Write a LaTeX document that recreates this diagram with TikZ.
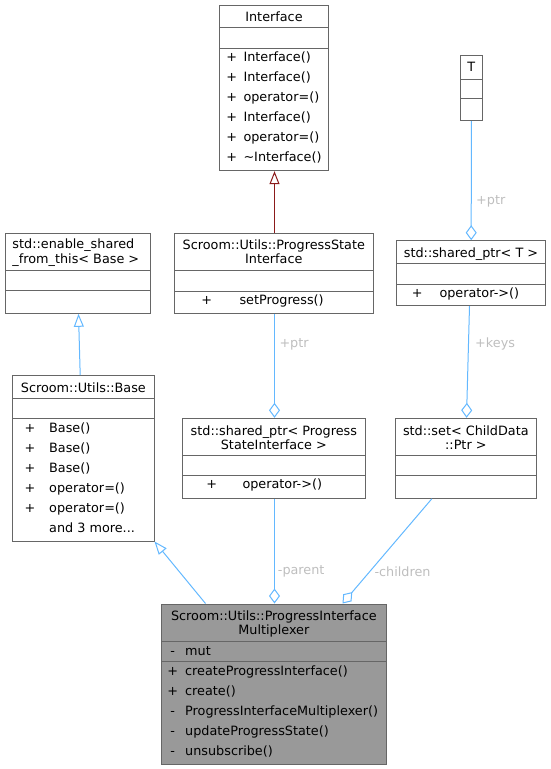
\documentclass[tikz,border=0pt]{standalone}
\usepackage{fontspec}
\setmainfont{DejaVu Sans}
\usetikzlibrary{arrows.meta,calc}
\definecolor{boxgray}{HTML}{666666}
\definecolor{mainfill}{HTML}{999999}
\definecolor{edgeblue}{HTML}{63B8FF}
\definecolor{edgered}{HTML}{8B1A1A}
\definecolor{lblgray}{HTML}{BEBEBE}
\newcommand{\dxfont}{\fontsize{12.8}{15}\selectfont}
\newcommand{\dxrow}[6]{\node[txt] (#1s) at (#2,#4) {#5}; \node[txtw] (#1n) at (#3,#4) {#6};}
\begin{document}
\begin{tikzpicture}[x=1pt,y=-1pt,
 cls/.style={draw=boxgray, line width=1pt, inner sep=0pt, fill=white},
 sepl/.style={draw=boxgray, line width=1pt},
 txt/.style={inner sep=0pt, font=\dxfont, anchor=base},
 txtw/.style={inner sep=0pt, font=\dxfont, anchor=base west},
 lbl/.style={inner sep=0pt, font=\dxfont, text=lblgray, anchor=west},
 inh/.style={draw=edgeblue, line width=1pt, -{Triangle[open,length=13pt,width=10pt,fill=white]}},
 inhred/.style={inh, draw=edgered},
 agg/.style={draw=edgeblue, line width=1pt, -{Diamond[open,length=15pt,width=11pt,fill=white]}},
]
\useasboundingbox (0,0) rectangle (551,769);

% Interface
\node[cls, minimum width=108.6pt, minimum height=165.7pt] (iface) at (274,87.85) {};
\draw[sepl] (219.7,27.7) -- (328.3,27.7);
\draw[sepl] (219.7,48) -- (328.3,48);
\node[txt] (ifaceT) at (274,21) {Interface};
\dxrow{ifa}{231.7}{243.3}{61}{+}{Interface()}
\dxrow{ifb}{231.7}{243.3}{81}{+}{Interface()}
\dxrow{ifc}{231.7}{243.3}{101}{+}{operator=()}
\dxrow{ifd}{231.7}{243.3}{121}{+}{Interface()}
\dxrow{ife}{231.7}{243.3}{141}{+}{operator=()}
\dxrow{iff}{231.7}{243.3}{161}{+}{\textasciitilde Interface()}

% T
\node[cls, minimum width=22.7pt, minimum height=65.7pt] (T) at (471.35,87.85) {};
\draw[sepl] (460,79) -- (482.7,79);
\draw[sepl] (460,98.7) -- (482.7,98.7);
\node[txt] (TT) at (471.35,71.7) {T};

% enable_shared_from_this
\node[cls, minimum width=145.7pt, minimum height=80pt] (esft) at (77.85,273.3) {};
\draw[sepl] (5,270.7) -- (150.7,270.7);
\draw[sepl] (5,290.7) -- (150.7,290.7);
\node[txtw] (esftA) at (12.3,248.8) {std::enable\_shared};
\node[txtw] (esftB) at (12.3,263.8) {\_from\_this< Base >};

% ProgressStateInterface
\node[cls, minimum width=199pt, minimum height=80pt] (psi) at (273.8,273.3) {};
\draw[sepl] (174.3,270.7) -- (373.3,270.7);
\draw[sepl] (174.3,291) -- (373.3,291);
\node[txt] (psiA) at (273.8,249.5) {Scroom::Utils::ProgressState};
\node[txt] (psiB) at (273.8,263.8) {Interface};
\dxrow{psa}{206.7}{239.3}{304}{+}{setProgress()}

% shared_ptr< T >
\node[cls, minimum width=149pt, minimum height=65pt] (spT) at (471.2,273.2) {};
\draw[sepl] (396.7,263.3) -- (545.7,263.3);
\draw[sepl] (396.7,284) -- (545.7,284);
\node[txt] (spTT) at (471,257.2) {std::shared\_ptr< T >};
\dxrow{spta}{417.3}{439.3}{297.6}{+}{operator->()}

% Base
\node[cls, minimum width=141.3pt, minimum height=165.3pt] (base) at (83.35,458.35) {};
\draw[sepl] (12.7,398.3) -- (154,398.3);
\draw[sepl] (12.7,418.3) -- (154,418.3);
\node[txt] (baseT) at (83.35,392.2) {Scroom::Utils::Base};
\dxrow{bsa}{30}{49}{432}{+}{Base()}
\dxrow{bsb}{30}{49}{452}{+}{Base()}
\dxrow{bsc}{30}{49}{472}{+}{Base()}
\dxrow{bsd}{30}{49}{492}{+}{operator=()}
\dxrow{bse}{30}{49}{512}{+}{operator=()}
\node[txtw] (bsf) at (49,532) {and 3 more...};

% shared_ptr< ProgressStateInterface >
\node[cls, minimum width=182.3pt, minimum height=80pt] (spP) at (273.85,458.3) {};
\draw[sepl] (182.7,455.7) -- (365,455.7);
\draw[sepl] (182.7,475.7) -- (365,475.7);
\node[txt] (spPA) at (273.85,435.2) {std::shared\_ptr< Progress};
\node[txt] (spPB) at (273.85,449.5) {StateInterface >};
\dxrow{sppa}{211.7}{242.3}{488.6}{+}{operator->()}

% set< ChildData::Ptr >
\node[cls, minimum width=141.7pt, minimum height=80pt] (set) at (465.85,458.3) {};
\draw[sepl] (395,455.7) -- (536.7,455.7);
\draw[sepl] (395,475.7) -- (536.7,475.7);
\node[txt] (setA) at (465.85,435.2) {std::set< ChildData};
\node[txt] (setB) at (465.85,449.5) {::Ptr >};

% ProgressInterfaceMultiplexer
\node[cls, fill=mainfill, minimum width=225.7pt, minimum height=160pt] (main) at (273.85,684) {};
\draw[sepl] (161,641.7) -- (386.7,641.7);
\draw[sepl] (161,661) -- (386.7,661);
\node[txt] (mainA) at (273.85,620.2) {Scroom::Utils::ProgressInterface};
\node[txt] (mainB) at (273.85,634.5) {Multiplexer};
\dxrow{mna}{172.7}{185}{655}{-}{mut}
\dxrow{mnb}{172.7}{185}{675}{+}{createProgressInterface()}
\dxrow{mnc}{172.7}{185}{695}{+}{create()}
\dxrow{mnd}{172.7}{185}{715}{-}{ProgressInterfaceMultiplexer()}
\dxrow{mne}{172.7}{185}{735}{-}{updateProgressState()}
\dxrow{mnf}{172.7}{185}{755}{-}{unsubscribe()}

% connectors
\draw[inhred] ($(psi.north)+(0.7,0)$) -- ($(iface.south)+(0.5,0)$);
\draw[inh] ($(base.north west)+(68,0)$) -- ($(esft.south west)+(74,0)$);
\draw[inh] ($(main.north west)+(45,0)$) -- (base.south east);
\draw[agg] ($(psi.south)+(0.7,0)$) -- ($(spP.north)+(0.65,0)$);
\draw[agg] (T.south) -- (spT.north);
\draw[agg] ($(spT.south west)+(73.3,0)$) -- ($(set.north west)+(72,0)$);
\draw[agg] ($(spP.south)+(0.65,0)$) -- ($(main.north)+(0.65,0)$);
\draw[agg] ($(set.south west)+(37.3,0)$) -- ($(main.north west)+(182,0)$);

% labels
\node[lbl] (l1) at (279.3,344) {+ptr};
\node[lbl] (l2) at (476,201) {+ptr};
\node[lbl] (l3) at (475,344) {+keys};
\node[lbl] (l4) at (277.7,571.7) {-parent};
\node[lbl] (l5) at (374.3,571.7) {-children};
\end{tikzpicture}
\end{document}
